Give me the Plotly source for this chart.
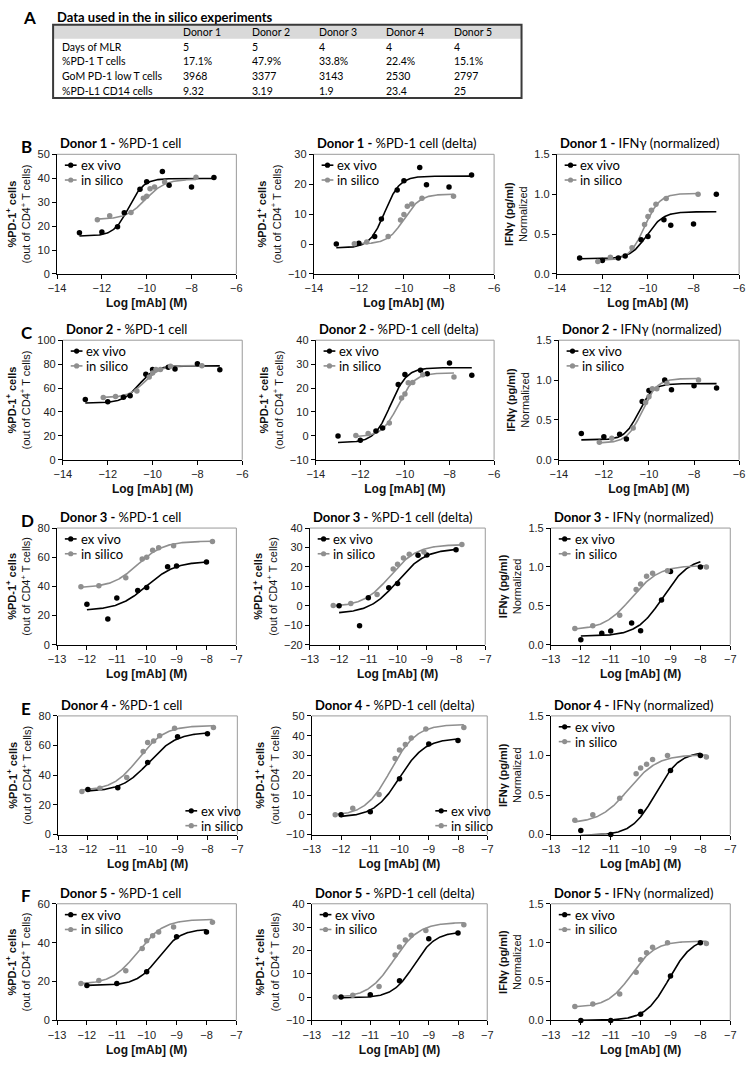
import numpy as np
import plotly.graph_objects as go

W, H = 750, 1065

# ---------------- Table (panel A) ----------------
table_header = ["Donor 1", "Donor 2", "Donor 3", "Donor 4", "Donor 5"]
table_row_labels = ["Days of MLR", "%PD-1 T cells", "GoM PD-1 low T cells", "%PD-L1 CD14 cells"]
days_mlr = ["5", "5", "4", "4", "4"]
pct_pd1_t = ["17.1%", "47.9%", "33.8%", "22.4%", "15.1%"]
gom_pd1_low = ["3968", "3377", "3143", "2530", "2797"]
pct_pdl1_cd14 = ["9.32", "3.19", "1.9", "23.4", "25"]

# ---------------- Concentrations (log M) ----------------
ex_x_d12 = [-13, -12, -11.3, -11, -10.3, -10, -9.3, -9, -8, -7]
sil_x_d12 = [-12.2, -11.65, -10.7, -10.15, -10.0, -9.85, -9.65, -9.2, -7.8]
ex_x_d3 = [-12, -11.3, -11, -10.3, -10, -9.3, -9, -8]
ex_x_d45 = [-12, -11, -10, -9, -8]
sil_x_d345 = [-12.2, -11.6, -10.7, -10.15, -10.0, -9.8, -9.6, -9.1, -7.8]

# ---------------- Donor 1 ----------------
d1_pd1_ex = [17.2, 17.5, 19.7, 25.6, 35.4, 38.5, 42.8, 37.1, 36.3, 40.3]
d1_pd1_sil = [22.6, 24.3, 25.7, 31.6, 32.5, 35.6, 36.3, 38.4, 40.4]
d1_delta_ex = [0.0, 0.3, 2.5, 8.4, 18.1, 21.2, 25.6, 19.8, 19.1, 23.1]
d1_delta_sil = [0.1, 0.7, 2.5, 8.0, 9.9, 12.6, 13.4, 15.3, 16.0]
d1_ifn_ex = [0.20, 0.17, 0.20, 0.225, 0.43, 0.47, 0.68, 0.61, 0.625, 1.0]
d1_ifn_sil = [0.155, 0.21, 0.33, 0.62, 0.72, 0.80, 0.875, 0.945, 1.0]
# fit parameters [bottom, top, logEC50, hill]
d1_pd1_fit_ex = [15.8, 39.9, -10.8, 1.3]
d1_pd1_fit_sil = [22.8, 39.6, -10.05, 1.0]
d1_delta_fit_ex = [-1.3, 22.7, -10.85, 1.3]
d1_delta_fit_sil = [0.0, 16.7, -10.0, 1.2]
d1_ifn_fit_ex = [0.19, 0.78, -10.05, 1.2]
d1_ifn_fit_sil = [0.17, 1.01, -10.15, 1.3]

# ---------------- Donor 2 ----------------
d2_pd1_ex = [50.4, 48.5, 52.3, 53.5, 71.5, 75.6, 77.4, 76.0, 80.3, 75.2]
d2_pd1_sil = [52.0, 53.0, 57.6, 69.2, 72.5, 75.4, 75.6, 78.2, 78.6]
d2_delta_ex = [0.0, -1.8, 2.0, 3.3, 21.5, 25.7, 27.4, 26.0, 30.5, 25.3]
d2_delta_sil = [0.2, 1.0, 5.4, 15.8, 17.5, 22.2, 22.3, 25.6, 24.6]
d2_ifn_ex = [0.33, 0.29, 0.32, 0.26, 0.73, 0.87, 1.0, 0.88, 0.93, 0.90]
d2_ifn_sil = [0.22, 0.27, 0.40, 0.72, 0.79, 0.89, 0.89, 0.96, 1.0]
d2_pd1_fit_ex = [47.5, 78.5, -10.6, 1.2]
d2_pd1_fit_sil = [52.0, 78.8, -10.35, 1.2]
d2_delta_fit_ex = [-2.8, 28.5, -10.65, 1.2]
d2_delta_fit_sil = [-0.4, 26.3, -10.3, 1.2]
d2_ifn_fit_ex = [0.25, 0.955, -10.45, 1.4]
d2_ifn_fit_sil = [0.21, 1.02, -10.3, 1.3]

# ---------------- Donor 3 ----------------
d3_pd1_ex = [27.7, 17.6, 32.0, 37.2, 39.2, 53.5, 54.0, 56.7]
d3_pd1_sil = [39.8, 40.5, 46.0, 58.8, 60.0, 64.8, 66.5, 67.8, 70.8]
d3_delta_ex = [0.0, -10.2, 4.2, 9.3, 11.5, 26.0, 26.2, 28.8]
d3_delta_sil = [0.2, 1.2, 5.8, 19.0, 21.4, 24.6, 26.5, 27.7, 31.6]
d3_ifn_ex = [0.065, 0.148, 0.175, 0.28, 0.18, 0.575, 0.94, 1.0]
d3_ifn_sil = [0.21, 0.245, 0.38, 0.71, 0.78, 0.88, 0.92, 0.95, 1.0]
d3_pd1_fit_ex = [23.5, 57.2, -10.0, 0.9]
d3_pd1_fit_sil = [39.0, 71.0, -10.3, 1.0]
d3_delta_fit_ex = [-4.0, 29.5, -10.0, 0.9]
d3_delta_fit_sil = [-0.5, 31.5, -10.25, 0.95]
d3_ifn_fit_ex = [0.11, 1.12, -9.25, 1.0]
d3_ifn_fit_sil = [0.19, 1.02, -10.3, 0.95]

# ---------------- Donor 4 ----------------
d4_pd1_ex = [30.3, 31.6, 48.6, 66.0, 68.0]
d4_pd1_sil = [29.0, 31.3, 38.5, 56.0, 62.0, 63.0, 66.7, 71.6, 72.2]
d4_delta_ex = [0.0, 1.5, 18.2, 35.8, 37.6]
d4_delta_sil = [0.0, 3.3, 10.3, 28.5, 32.7, 35.6, 38.8, 43.4, 44.2]
d4_ifn_ex = [0.05, 0.0, 0.29, 0.81, 1.0]
d4_ifn_sil = [0.18, 0.25, 0.46, 0.77, 0.84, 0.89, 0.95, 1.0, 0.98]
d4_pd1_fit_ex = [29.0, 69.0, -9.95, 0.95]
d4_pd1_fit_sil = [29.5, 73.5, -10.3, 1.0]
d4_delta_fit_ex = [-1.2, 38.7, -10.0, 1.0]
d4_delta_fit_sil = [-0.5, 45.7, -10.3, 1.0]
d4_ifn_fit_ex = [-0.01, 1.05, -9.5, 1.1]
d4_ifn_fit_sil = [0.14, 1.01, -10.4, 0.9]

# ---------------- Donor 5 ----------------
d5_pd1_ex = [18.0, 19.0, 25.0, 43.0, 45.5]
d5_pd1_sil = [19.0, 20.5, 25.5, 37.0, 41.0, 43.5, 45.5, 48.0, 50.5]
d5_delta_ex = [0.0, 1.0, 7.0, 25.0, 27.5]
d5_delta_sil = [0.0, 0.8, 4.5, 18.0, 21.5, 24.5, 26.5, 28.5, 31.0]
d5_ifn_ex = [0.0, 0.0, 0.08, 0.57, 1.0]
d5_ifn_sil = [0.18, 0.21, 0.34, 0.62, 0.78, 0.87, 0.94, 1.0, 0.99]
d5_pd1_fit_ex = [18.0, 47.0, -9.6, 1.2]
d5_pd1_fit_sil = [18.5, 52.0, -10.3, 1.0]
d5_delta_fit_ex = [-0.3, 28.0, -9.5, 1.2]
d5_delta_fit_sil = [-0.3, 32.0, -10.2, 1.0]
d5_ifn_fit_ex = [0.0, 1.07, -9.05, 1.1]
d5_ifn_fit_sil = [0.17, 1.02, -10.3, 1.1]

# axis ranges [min, max, step]
pd1_yranges = [[0, 50, 10], [0, 100, 20], [0, 80, 20], [0, 80, 20], [0, 60, 20]]
delta_yranges = [[-10, 30, 10], [-10, 40, 10], [-20, 40, 10], [-10, 50, 10], [-10, 40, 10]]
ifn_yrange = [0, 1.5, 0.5]
x_ranges = [[-14, -6, 2], [-14, -6, 2], [-13, -7, 1], [-13, -7, 1], [-13, -7, 1]]

series_names = ["ex vivo", "in silico"]
BLACK = "#000000"
GREY = "#8f8f8f"

donor_data = [
    (ex_x_d12, sil_x_d12,
     [(d1_pd1_ex, d1_pd1_sil, d1_pd1_fit_ex, d1_pd1_fit_sil),
      (d1_delta_ex, d1_delta_sil, d1_delta_fit_ex, d1_delta_fit_sil),
      (d1_ifn_ex, d1_ifn_sil, d1_ifn_fit_ex, d1_ifn_fit_sil)]),
    (ex_x_d12, sil_x_d12,
     [(d2_pd1_ex, d2_pd1_sil, d2_pd1_fit_ex, d2_pd1_fit_sil),
      (d2_delta_ex, d2_delta_sil, d2_delta_fit_ex, d2_delta_fit_sil),
      (d2_ifn_ex, d2_ifn_sil, d2_ifn_fit_ex, d2_ifn_fit_sil)]),
    (ex_x_d3, sil_x_d345,
     [(d3_pd1_ex, d3_pd1_sil, d3_pd1_fit_ex, d3_pd1_fit_sil),
      (d3_delta_ex, d3_delta_sil, d3_delta_fit_ex, d3_delta_fit_sil),
      (d3_ifn_ex, d3_ifn_sil, d3_ifn_fit_ex, d3_ifn_fit_sil)]),
    (ex_x_d45, sil_x_d345,
     [(d4_pd1_ex, d4_pd1_sil, d4_pd1_fit_ex, d4_pd1_fit_sil),
      (d4_delta_ex, d4_delta_sil, d4_delta_fit_ex, d4_delta_fit_sil),
      (d4_ifn_ex, d4_ifn_sil, d4_ifn_fit_ex, d4_ifn_fit_sil)]),
    (ex_x_d45, sil_x_d345,
     [(d5_pd1_ex, d5_pd1_sil, d5_pd1_fit_ex, d5_pd1_fit_sil),
      (d5_delta_ex, d5_delta_sil, d5_delta_fit_ex, d5_delta_fit_sil),
      (d5_ifn_ex, d5_ifn_sil, d5_ifn_fit_ex, d5_ifn_fit_sil)]),
]

# ---------------- Layout geometry (pixels) ----------------
row_geom = [
    dict(letter="B", top=150, bot=271, cols=[(49, 232), (311, 495), (559, 745)]),
    dict(letter="C", top=338, bot=459, cols=[(55, 238), (313, 495), (561, 745)]),
    dict(letter="D", top=528, bot=646, cols=[(49, 232), (307, 486), (553, 736)]),
    dict(letter="E", top=718, bot=838, cols=[(50, 233), (309, 488), (553, 736)]),
    dict(letter="F", top=908, bot=1026, cols=[(49, 232), (309, 488), (553, 736)]),
]


def logistic(x, p):
    b, t, ec, h = p
    return b + (t - b) / (1.0 + 10.0 ** ((ec - x) * h))


def px(x):
    return x / W


def py(y):
    return 1 - y / H


TXT_FONT = "Lato"
AX_FONT = "Liberation Sans"

fig = go.Figure()
layout = dict(
    width=W, height=H, margin=dict(l=0, r=0, t=0, b=0),
    paper_bgcolor="white", plot_bgcolor="white", showlegend=False,
)
annotations = []
shapes = []


def legend_entry(text_x, y, name, col):
    # small line + dot glyph, then label
    shapes.append(dict(type="line", xref="paper", yref="paper", x0=px(text_x - 13),
                       x1=px(text_x - 1), y0=py(y), y1=py(y), line=dict(color=col, width=1.6)))
    shapes.append(dict(type="circle", xref="paper", yref="paper", xsizemode="pixel",
                       ysizemode="pixel", xanchor=px(text_x - 7), yanchor=py(y),
                       x0=-2.6, x1=2.6, y0=-2.6, y1=2.6, fillcolor=col, line=dict(width=0)))
    annotations.append(dict(text=name, x=px(text_x + 1), y=py(y), xref="paper", yref="paper",
                            xanchor="left", yanchor="middle", showarrow=False,
                            font=dict(family=TXT_FONT, size=13, color="black")))


title_kinds = ["%PD-1 cell", "%PD-1 cell (delta)", "IFNγ (normalized)"]
ytitle_pd1 = "<b>%PD-1<sup>+</sup> cells</b><br>(out of CD4<sup>+</sup> T cells)"
ytitle_ifn = "<b>IFNγ (pg/ml)</b><br>Normalized"

k = 0
for r, (ex_x, sil_x, kinds) in enumerate(donor_data):
    g = row_geom[r]
    annotations.append(dict(text="<b>%s</b>" % g["letter"], x=px(10), y=py(g["top"] - 8),
                            xref="paper", yref="paper", xanchor="left", yanchor="middle",
                            showarrow=False, font=dict(family=TXT_FONT, size=17, color="black")))
    for c in range(3):
        k += 1
        ex_y, sil_y, fit_ex, fit_sil = kinds[c]
        l, rgt = g["cols"][c]
        xa = "x" if k == 1 else "x%d" % k
        ya = "y" if k == 1 else "y%d" % k

        # fitted curves
        for xs, p, col in ((ex_x, fit_ex, BLACK), (sil_x, fit_sil, GREY)):
            xx = np.linspace(min(xs), max(xs), 200)
            fig.add_trace(go.Scatter(x=xx, y=logistic(xx, p), mode="lines",
                                     line=dict(color=col, width=1.6), xaxis=xa, yaxis=ya,
                                     name=series_names[0] if col == BLACK else series_names[1],
                                     showlegend=False, hoverinfo="skip"))
        # points
        for xs, ys, col, nm in ((ex_x, ex_y, BLACK, series_names[0]),
                                (sil_x, sil_y, GREY, series_names[1])):
            fig.add_trace(go.Scatter(x=xs, y=ys, mode="markers", name=nm,
                                     marker=dict(color=col, size=5.5), xaxis=xa, yaxis=ya,
                                     showlegend=False, cliponaxis=False))

        if c == 0:
            yr = pd1_yranges[r]
            ytitle = ytitle_pd1
            tf = None
        elif c == 1:
            yr = delta_yranges[r]
            ytitle = ytitle_pd1
            tf = None
        else:
            yr = ifn_yrange
            ytitle = ytitle_ifn
            tf = ".1f"
        xr = x_ranges[r]

        layout["xaxis" if k == 1 else "xaxis%d" % k] = dict(
            domain=[px(l), px(rgt)], anchor=ya, range=[xr[0], xr[1]], dtick=xr[2], tick0=xr[0],
            showline=True, linecolor="black", linewidth=1, ticks="outside", ticklen=4,
            tickcolor="black", showgrid=False, zeroline=False,
            tickfont=dict(family=AX_FONT, size=11, color="#222"),
            title=dict(text="<b>Log [mAb] (M)</b>", standoff=5,
                       font=dict(family=AX_FONT, size=12, color="#111")))
        yd = dict(
            domain=[py(g["bot"]), py(g["top"])], anchor=xa, range=[yr[0], yr[1]],
            dtick=yr[2], tick0=yr[0], showline=True, linecolor="black", linewidth=1,
            ticks="outside", ticklen=4, tickcolor="black", showgrid=False, zeroline=False,
            tickfont=dict(family=AX_FONT, size=11, color="#222"),
            title=dict(text=ytitle, standoff=4, font=dict(family=AX_FONT, size=11, color="#111")))
        if tf:
            yd["tickformat"] = tf
        layout["yaxis" if k == 1 else "yaxis%d" % k] = yd

        # light frame on top and right
        shapes.append(dict(type="line", xref=xa + " domain", yref=ya + " domain",
                           x0=0, x1=1, y0=1, y1=1, line=dict(color="#9a9a9a", width=1)))
        shapes.append(dict(type="line", xref=xa + " domain", yref=ya + " domain",
                           x0=1, x1=1, y0=0, y1=1, line=dict(color="#9a9a9a", width=1)))

        # panel title
        annotations.append(dict(
            text="<b>Donor %d - </b>%s" % (r + 1, title_kinds[c]),
            x=px(l + 1), y=py(g["top"] - 1), xref="paper", yref="paper",
            xanchor="left", yanchor="bottom", showarrow=False,
            font=dict(family=TXT_FONT, size=13, color="black")))

        # legend
        if r == 3 and c < 2:
            tx = rgt - 40
            legend_entry(tx, g["bot"] - 24, series_names[0], BLACK)
            legend_entry(tx, g["bot"] - 9, series_names[1], GREY)
        else:
            tx = l + 21
            legend_entry(tx, g["top"] + 11, series_names[0], BLACK)
            legend_entry(tx, g["top"] + 26, series_names[1], GREY)

# ---------------- Table drawing ----------------
TL, TR, TT, TB = 45, 523, 19, 93
shapes.append(dict(type="rect", xref="paper", yref="paper", x0=px(TL), x1=px(TR),
                   y0=py(33), y1=py(TT), fillcolor="#d9d9d9", line=dict(width=0),
                   layer="below"))
shapes.append(dict(type="rect", xref="paper", yref="paper", x0=px(TL), x1=px(TR),
                   y0=py(TB), y1=py(TT), line=dict(color="#3a3a3a", width=2)))
annotations.append(dict(text="<b>A</b>", x=px(12), y=py(12), xref="paper", yref="paper",
                        xanchor="left", yanchor="middle", showarrow=False,
                        font=dict(family=TXT_FONT, size=17, color="black")))
annotations.append(dict(text="<b>Data used in the in silico experiments</b>", x=px(47),
                        y=py(11), xref="paper", yref="paper", xanchor="left",
                        yanchor="middle", showarrow=False,
                        font=dict(family=TXT_FONT, size=13, color="black")))
col_x = [176, 246, 314, 383, 452]
row_y = [41, 56, 71, 86]
TABLE_FS = 10.5
for j, hdr in enumerate(table_header):
    annotations.append(dict(text=hdr, x=px(col_x[j]), y=py(26), xref="paper", yref="paper",
                            xanchor="left", yanchor="middle", showarrow=False,
                            font=dict(family=TXT_FONT, size=TABLE_FS, color="black")))
table_values = [days_mlr, pct_pd1_t, gom_pd1_low, pct_pdl1_cd14]
for i, lab in enumerate(table_row_labels):
    annotations.append(dict(text=lab, x=px(52), y=py(row_y[i]), xref="paper", yref="paper",
                            xanchor="left", yanchor="middle", showarrow=False,
                            font=dict(family=TXT_FONT, size=TABLE_FS, color="black")))
    for j, v in enumerate(table_values[i]):
        annotations.append(dict(text=v, x=px(col_x[j]), y=py(row_y[i]), xref="paper",
                                yref="paper", xanchor="left", yanchor="middle", showarrow=False,
                                font=dict(family=TXT_FONT, size=TABLE_FS, color="black")))

layout["annotations"] = annotations
layout["shapes"] = shapes
fig.update_layout(**layout)
fig.write_html("out.html")
